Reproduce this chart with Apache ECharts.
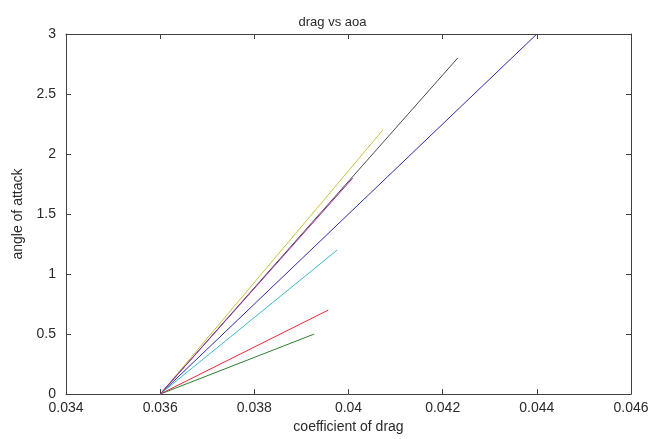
<!DOCTYPE html>
<html>
<head>
<meta charset="utf-8">
<title>drag vs aoa</title>
<script src="https://cdn.jsdelivr.net/npm/echarts@6/dist/echarts.min.js"></script>
<style>
  html, body { margin: 0; padding: 0; background: #fff; }
  #chart { width: 665px; height: 439px; }
</style>
</head>
<body>
<div id="chart"></div>
<script>
// coefficient of drag (x) and angle of attack (y) for each run, start -> end
const seriesNames = ['b', 'g', 'r', 'c', 'm', 'y', 'k'];
const seriesColors = ['#2a2aa8', '#2f7f2f', '#e0303c', '#40b8c8', '#a030a8', '#c4c440', '#484848'];
const cdStart = [0.036, 0.036, 0.036, 0.036, 0.036, 0.036, 0.036];
const cdEnd = [0.0440, 0.03927, 0.03957, 0.03976, 0.04009, 0.04073, 0.04232];
const aoaStart = [0, 0, 0, 0, 0, 0, 0];
const aoaEnd = [3.0, 0.5, 0.7, 1.2, 1.8, 2.2, 2.8];

const axisColor = '#404040';
const labelFont = { color: '#2a2a2a', fontSize: 14, fontFamily: 'Liberation Sans, Arial, sans-serif' };

const myChart = echarts.init(document.getElementById('chart'));

const series = seriesNames.map((name, i) => ({
  name: name,
  type: 'line',
  xAxisIndex: 0,
  yAxisIndex: 0,
  symbol: 'none',
  animation: false,
  z: name === 'm' ? 3 : 2, // magenta sits over the black line in the picture
  lineStyle: { width: 1, color: seriesColors[i] },
  data: [[cdStart[i], aoaStart[i]], [cdEnd[i], aoaEnd[i]]],
}));

const option = {
  backgroundColor: '#ffffff',
  animation: false,
  title: {
    text: 'drag vs aoa',
    left: 'center',
    top: 11,
    textStyle: { color: '#2a2a2a', fontSize: 13, fontWeight: 'normal', fontFamily: 'Liberation Sans, Arial, sans-serif' },
  },
  grid: { left: 66, right: 34, top: 34, bottom: 40 },
  xAxis: [
    {
      type: 'value',
      position: 'bottom',
      min: 0.034,
      max: 0.046,
      interval: 0.002,
      name: 'coefficient of drag',
      nameLocation: 'middle',
      nameGap: 24,
      nameTextStyle: labelFont,
      axisLine: { show: true, onZero: false, lineStyle: { color: axisColor, width: 1 } },
      axisTick: { show: true, inside: true, length: 5, lineStyle: { color: axisColor } },
      axisLabel: Object.assign({ margin: 7, formatter: v => String(+v.toFixed(3)) }, labelFont),
      splitLine: { show: false },
    },
    {
      type: 'value',
      position: 'top',
      min: 0.034,
      max: 0.046,
      interval: 0.002,
      axisLine: { show: true, onZero: false, lineStyle: { color: axisColor, width: 1 } },
      axisTick: { show: true, inside: true, length: 5, lineStyle: { color: axisColor } },
      axisLabel: { show: false },
      splitLine: { show: false },
    },
  ],
  yAxis: [
    {
      type: 'value',
      position: 'left',
      min: 0,
      max: 3,
      interval: 0.5,
      name: 'angle of attack',
      nameLocation: 'middle',
      nameGap: 41,
      nameTextStyle: labelFont,
      axisLine: { show: true, onZero: false, lineStyle: { color: axisColor, width: 1 } },
      axisTick: { show: true, inside: true, length: 5, lineStyle: { color: axisColor } },
      axisLabel: Object.assign({ margin: 10 }, labelFont),
      splitLine: { show: false },
    },
    {
      type: 'value',
      position: 'right',
      min: 0,
      max: 3,
      interval: 0.5,
      axisLine: { show: true, onZero: false, lineStyle: { color: axisColor, width: 1 } },
      axisTick: { show: true, inside: true, length: 5, lineStyle: { color: axisColor } },
      axisLabel: { show: false },
      splitLine: { show: false },
    },
  ],
  series: series,
};

myChart.setOption(option);
</script>
</body>
</html>
